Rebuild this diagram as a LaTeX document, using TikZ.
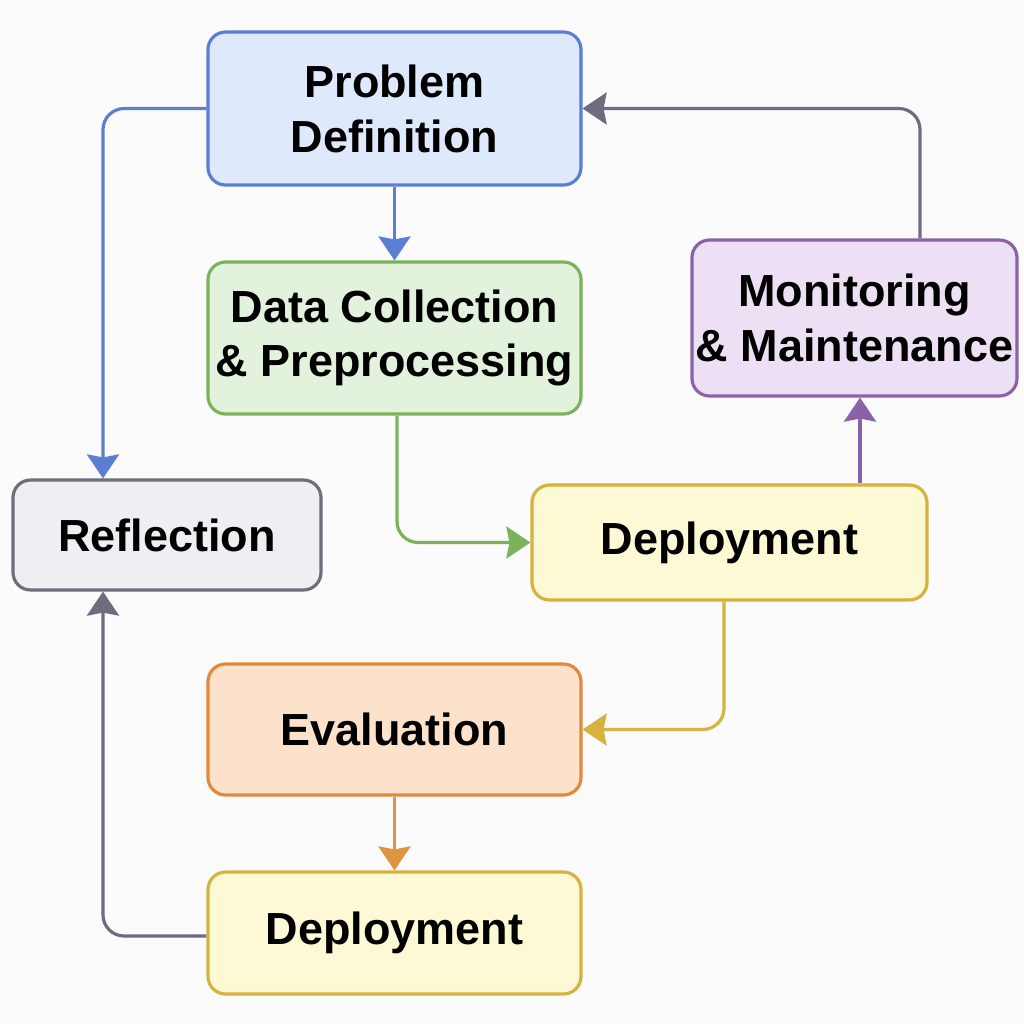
\documentclass[tikz,border=0pt]{standalone}
\usepackage{fontspec}
\setmainfont{Liberation Sans}
\usepackage{xcolor}
\usepackage{tikz}
\usetikzlibrary{arrows.meta, positioning, calc}
\definecolor{pdDraw}{HTML}{5A7FD2}
\definecolor{pdFill}{HTML}{DFE9FC}
\definecolor{dcDraw}{HTML}{7CB35A}
\definecolor{dcFill}{HTML}{E2F2DC}
\definecolor{mmDraw}{HTML}{8B62A6}
\definecolor{mmFill}{HTML}{EEE0F4}
\definecolor{rfDraw}{HTML}{6D6D7D}
\definecolor{rfFill}{HTML}{EFEFF3}
\definecolor{dpDraw}{HTML}{D6B23E}
\definecolor{dpFill}{HTML}{FDF9D5}
\definecolor{evDraw}{HTML}{E3883A}
\definecolor{evFill}{HTML}{FDE2CB}
\definecolor{evArr}{HTML}{DE9440}
\definecolor{bgPage}{HTML}{FBFBFB}
\tikzset{
  stage/.style={rectangle,rounded corners=5pt,line width=0.9pt,align=center,
    font=\bfseries\fontsize{12.8}{15.6}\selectfont,inner sep=0pt},
  bbox/.style={stage,draw=pdDraw,fill=pdFill},
  gbox/.style={stage,draw=dcDraw,fill=dcFill},
  pbox/.style={stage,draw=mmDraw,fill=mmFill},
  kbox/.style={stage,draw=rfDraw,fill=rfFill},
  ybox/.style={stage,draw=dpDraw,fill=dpFill},
  obox/.style={stage,draw=evDraw,fill=evFill},
  arr/.style={-{Stealth[length=0.24cm,width=0.32cm,inset=0.03cm]},line width=0.9pt,rounded corners=6pt}
}
\begin{document}
\begin{tikzpicture}
  \fill[bgPage] (0,0) rectangle (10.24,-10.24);
  \useasboundingbox (0,0) rectangle (10.24,-10.24);

  \node[bbox,minimum width=3.73cm,minimum height=1.53cm] (pd) at (3.945,-1.085) {Problem\\Definition};
  \node[gbox,minimum width=3.73cm,minimum height=1.52cm] (dc) at (3.945,-3.38) {Data Collection\\\& Preprocessing};
  \node[pbox,minimum width=3.25cm,minimum height=1.56cm] (mm) at (8.545,-3.18) {Monitoring\\\& Maintenance};
  \node[kbox,minimum width=3.08cm,minimum height=1.10cm] (rf) at (1.67,-5.35) {Reflection};
  \node[ybox,minimum width=3.95cm,minimum height=1.15cm] (dp1) at (7.295,-5.425) {Deployment};
  \node[obox,minimum width=3.73cm,minimum height=1.31cm] (ev) at (3.945,-7.295) {Evaluation};
  \node[ybox,minimum width=3.73cm,minimum height=1.22cm] (dp2) at (3.945,-9.33) {Deployment};

  % forward path
  \draw[arr,pdDraw] (pd.south) -- (dc.north);
  \draw[arr,pdDraw] (pd.west) -| (rf.north -| 1.03,0);
  \draw[arr,dcDraw] (dc.south -| 3.97,0) |- (dp1.west);
  \draw[arr,mmDraw] (dp1.north -| 8.60,0) -- (mm.south -| 8.60,0);
  \draw[arr,rfDraw] (mm.north -| 9.20,0) |- (pd.east);
  \draw[arr,dpDraw] (dp1.south -| 7.24,0) |- (ev.east);
  \draw[arr,evArr] (ev.south) -- (dp2.north);
  \draw[arr,rfDraw] (dp2.west |- 0,-9.36) -| (rf.south -| 1.03,0);
\end{tikzpicture}
\end{document}
